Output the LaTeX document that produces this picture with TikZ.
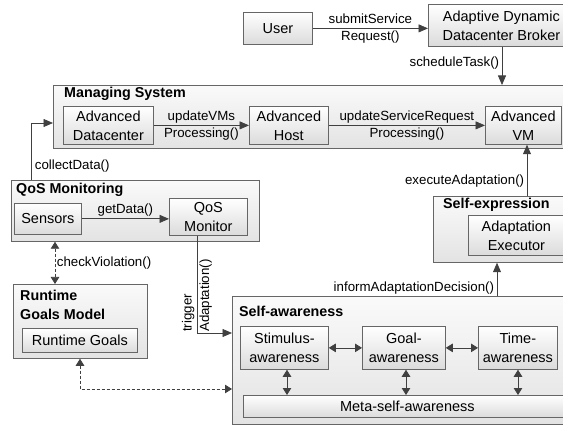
\documentclass[tikz,border=0pt]{standalone}
\usepackage{fontspec}
\setmainfont{Liberation Sans}
\usetikzlibrary{arrows.meta,shadows}
\definecolor{boxline}{HTML}{666666}
\definecolor{linecol}{HTML}{404040}
\newcommand\bxfont{\fontsize{14.5}{19}\selectfont}
\newcommand\lbfont{\fontsize{13.3}{17.5}\selectfont}
\newcommand\tlfont{\bfseries\fontsize{14.3}{19}\selectfont}
\begin{document}
\begin{tikzpicture}[x=1pt,y=-1pt,
  box/.style={draw=boxline, line width=0.75pt, top color=white, bottom color=black!14,
    drop shadow={shadow xshift=1pt, shadow yshift=-1pt, opacity=0.25, fill=black},
    inner sep=0pt, align=center, font=\bxfont, anchor=north west, text=black},
  cont/.style={box, top color=black!2, bottom color=black!11},
  ttl/.style={font=\tlfont, anchor=west, inner sep=0pt, align=left},
  lbl/.style={font=\lbfont, inner sep=2.5pt, text=black},
  arr/.style={draw=linecol, line width=0.75pt, -{Triangle[length=9.5pt,width=8pt]}},
  darr/.style={draw=linecol, line width=0.75pt, {Triangle[length=7pt,width=8.5pt]}-{Triangle[length=7pt,width=8.5pt]}},
  dsh/.style={dash pattern=on 3pt off 2pt}]
\useasboundingbox (0,0) rectangle (563,425);
\clip (0,0) rectangle (563,425);
\fill[white] (0,0) rectangle (563,425);

% top
\node[box, minimum width=69pt, minimum height=32pt] (user) at (243,12) {User};
\node[box, minimum width=146pt, minimum height=42pt] (broker) at (428,4) {Adaptive Dynamic\\Datacenter Broker};

% managing system
\node[cont, minimum width=525pt, minimum height=63pt] (ms) at (53,85) {};
\node[ttl] (mst) at (64,94) {Managing System};
\node[box, minimum width=90pt, minimum height=38pt] (adc) at (63,106) {Advanced\\Datacenter};
\node[box, minimum width=79pt, minimum height=38pt] (host) at (249,106) {Advanced\\Host};
\node[box, minimum width=76pt, minimum height=38pt] (vm) at (485,106) {Advanced\\VM};

% QoS monitoring
\node[cont, minimum width=248pt, minimum height=61pt] (qos) at (11,180) {};
\node[ttl] (qost) at (16,190) {QoS Monitoring};
\node[box, minimum width=67pt, minimum height=31pt] (sens) at (14,203) {Sensors};
\node[box, minimum width=78pt, minimum height=37pt] (qmon) at (169,198) {QoS\\Monitor};

% runtime goals model
\node[cont, minimum width=134pt, minimum height=74pt] (rgm) at (13,284) {};
\node[ttl] (rgmt) at (20,304.5) {Runtime\\Goals Model};
\node[box, minimum width=115pt, minimum height=24pt] (rg) at (22,328) {Runtime Goals};

% self-expression
\node[cont, minimum width=139pt, minimum height=66pt] (se) at (433,196) {};
\node[ttl] (set) at (443,205) {Self-expression};
\node[box, minimum width=96pt, minimum height=40pt] (exec) at (468,215) {Adaptation\\Executor};

% self-awareness
\node[cont, minimum width=348pt, minimum height=128pt] (sa) at (232,296) {};
\node[ttl] (sat) at (239,311) {Self-awareness};
\node[box, minimum width=88pt, minimum height=43pt] (stim) at (240,326) {Stimulus-\\awareness};
\node[box, minimum width=83pt, minimum height=43pt] (goal) at (362,326) {Goal-\\awareness};
\node[box, minimum width=79pt, minimum height=43pt] (time) at (478,326) {Time-\\awareness};
\node[box, minimum width=328pt, minimum height=22pt] (meta) at (243,395) {Meta-self-awareness};

% coordinates for connector routes
\coordinate (schx) at (502,0);
\coordinate (cdx) at (31,123);
\coordinate (cvx) at (55,0);
\coordinate (trx) at (197,333);
\coordinate (dshc) at (80,389);
\coordinate (infx) at (497,0);
\coordinate (exx) at (527,0);
\coordinate (sx) at (287,0);
\coordinate (gx) at (406,0);
\coordinate (tx) at (518,0);

% connectors
\draw[arr] (user.east) -- (user.east -| broker.west)
  node[midway, lbl, align=center] {submitService\\Request()};
\draw[arr] (broker.south -| schx) -- (ms.north -| schx)
  node[pos=0.42, lbl, anchor=east] {scheduleTask()};
\draw[arr] (adc) -- (host)
  node[midway, lbl, align=center] {updateVMs\\Processing()};
\draw[arr] (host) -- (vm)
  node[midway, lbl, align=center] {updateServiceRequest\\Processing()};
\draw[arr] (qos.north -| cdx) |- (ms.west |- cdx)
  node[pos=0.12, lbl, anchor=west, xshift=1pt] {collectData()};
\draw[arr] (sens.east) -- (sens.east -| qmon.west)
  node[midway, lbl, above] {getData()};
\draw[darr, dsh] (qos.south -| cvx) -- (rgm.north -| cvx)
  node[midway, lbl, right, inner sep=1.5pt] {checkViolation()};
\draw[arr] (qmon.south -| trx) |- (sa.west |- trx);
\node[lbl, rotate=90, anchor=west, align=left, inner sep=1pt] (trl) at (trx) {trigger\\Adaptation()};
\draw[darr, dsh] (rgm.south -| dshc) |- (sa.west |- dshc);
\draw[darr] (stim) -- (goal);
\draw[darr] (goal) -- (time);
\draw[darr] (stim.south -| sx) -- (meta.north -| sx);
\draw[darr] (goal.south -| gx) -- (meta.north -| gx);
\draw[darr] (time.south -| tx) -- (meta.north -| tx);
\draw[arr] (sa.north -| infx) -- (se.south -| infx)
  node[pos=0.25, lbl, anchor=east] {informAdaptationDecision()};
\draw[arr] (se.north -| exx) -- (vm.south -| exx)
  node[pos=0.3, lbl, anchor=east] {executeAdaptation()};
\end{tikzpicture}
\end{document}
